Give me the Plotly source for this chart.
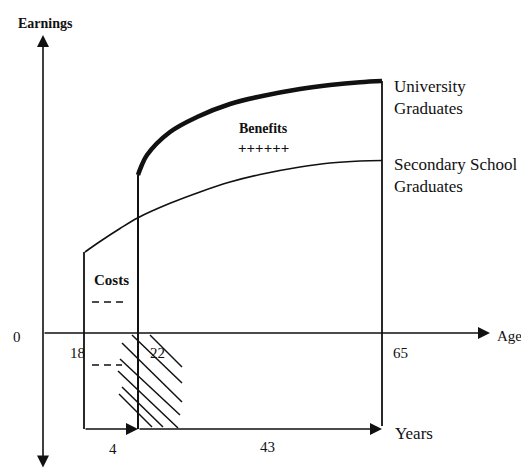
import plotly.graph_objects as go

# Schematic diagram units: origin where the Earnings axis meets the Age axis
# (x to the right, y = earnings upward)
age_labels = ["18", "22", "65"]
age_pos = [41, 95, 339]

secondary_x = [42, 57, 77, 95, 127, 157, 187, 217, 257, 287, 317, 339]
secondary_y = [81, 91.5, 104.5, 115.3, 129.7, 141.1, 151, 158.5, 166, 170, 172, 172.5]

university_x = [95, 98, 104, 127, 154, 187, 217, 257, 287, 317, 339]
university_y = [158, 166, 178, 201, 216, 229, 236.5, 244, 248, 250.8, 252]

years_level = -96
years_labels = ["4", "43"]

hatch_x0 = [89, 107, 79, 77, 75, 79, 76]
hatch_y0 = [-2, -2, -10, -26, -38, -54, -61]
hatch_x1 = [139, 139, 139, 137, 135, 120, 109]
hatch_y1 = [-50, -34, -69, -82, -95, -94, -94]

FONT = "Liberation Serif"
INK = "#111111"

fig = go.Figure()

def seg(xs, ys, width, dash="solid", shape="linear"):
    fig.add_trace(go.Scatter(x=xs, y=ys, mode="lines",
                             line=dict(color=INK, width=width, dash=dash, shape=shape),
                             hoverinfo="skip", showlegend=False))

# curves
seg(secondary_x, secondary_y, 1.6, shape="spline")
seg(university_x, university_y, 4.5, shape="spline")

# vertical lines at ages 18, 22, 65
seg([age_pos[0], age_pos[0]], [secondary_y[0], years_level], 1.8)
seg([age_pos[1], age_pos[1]], [university_y[0], years_level], 2)
seg([age_pos[2], age_pos[2]], [university_y[-1], years_level + 3], 1.8)

# cost dashes
seg([49, 85], [31, 31], 1.4, dash="7px,5px")
seg([49, 79], [-32, -32], 1.4, dash="7px,5px")

# hatching
hx, hy = [], []
for a, b, c, d in zip(hatch_x0, hatch_y0, hatch_x1, hatch_y1):
    hx += [a, c, None]
    hy += [b, d, None]
seg(hx, hy, 1.5)

def arrow(x0, y0, x1, y1, side="end", w=1.6):
    fig.add_annotation(x=x1, y=y1, ax=x0, ay=y0, xref="x", yref="y",
                       axref="x", ayref="y", showarrow=True, text="",
                       arrowhead=2, arrowsize=1.5, arrowwidth=w,
                       arrowcolor=INK, arrowside=side, standoff=0, startstandoff=0)

# Earnings axis (both directions), Age axis, Years arrows
arrow(0, -136, 0, 298, side="end+start")
arrow(0, 0, 447, 0)
arrow(age_pos[0], years_level, age_pos[1], years_level)
arrow(age_pos[1], years_level, age_pos[2], years_level)

def label(x, y, text, size=16, bold=False, xanchor="center"):
    fig.add_annotation(x=x, y=y, xref="x", yref="y", text=f"<b>{text}</b>" if bold else text,
                       showarrow=False, xanchor=xanchor, yanchor="middle", align="left",
                       font=dict(family=FONT, size=size, color=INK))

label(2, 310, "Earnings", size=14, bold=True)
label(-26, -4, "0", size=15)
label(age_pos[0] - 7, -20, age_labels[0], size=15)
label(age_pos[1] + 19, -20, age_labels[1], size=15)
label(age_pos[2] + 18, -20, age_labels[2], size=15)
label(452, -3, "Age", size=15, xanchor="left")
label(350, -100, "Years", size=17, xanchor="left")
label(70, -116, years_labels[0], size=15)
label(224, -114, years_labels[1], size=15)
label(349, 236, "University<br>Graduates", size=17, xanchor="left")
label(349, 158, "Secondary School<br>Graduates", size=17, xanchor="left")
label(220, 205, "Benefits", size=14, bold=True)
label(220, 185, "++++++", size=15, bold=True)
label(68, 53, "Costs", size=15, bold=True)

# the page adds an 8px body margin, so the figure is made smaller and its
# ranges are shifted to keep the diagram where the reference has it
fig.update_layout(
    width=521, height=466, margin=dict(l=0, r=0, t=0, b=0),
    paper_bgcolor="white", plot_bgcolor="white",
    xaxis=dict(range=[-35, 486], visible=False, fixedrange=True),
    yaxis=dict(range=[-141, 325], visible=False, fixedrange=True),
    showlegend=False,
)

fig.write_html("out.html")
